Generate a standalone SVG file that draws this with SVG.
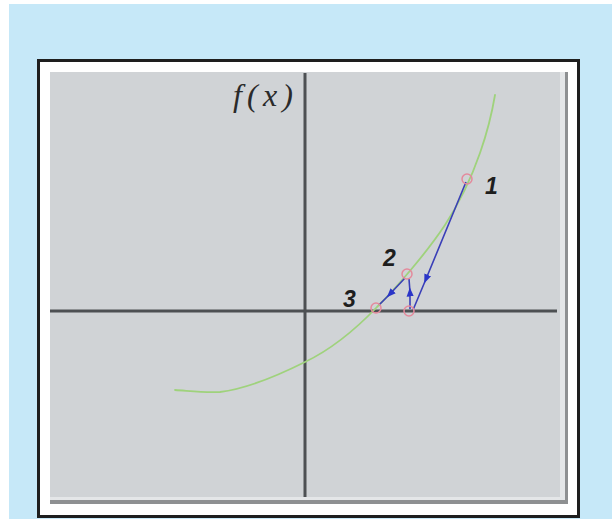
<svg xmlns="http://www.w3.org/2000/svg" width="612" height="519" viewBox="0 0 612 519">
  <style>
    .axis { stroke: #4d5053; stroke-width: 3; fill: none; }
    .curve { stroke: #9fd27c; stroke-width: 1.8; fill: none; stroke-linejoin: round; stroke-linecap: round; }
    .pt { stroke: #e48a9c; stroke-width: 1.5; fill: none; }
    .conn { stroke: #3a3fb8; stroke-width: 1.6; fill: none; marker-mid: url(#arrow); }
    .lbl { font-family: "Liberation Sans", Arial, sans-serif; font-weight: bold; font-style: italic; font-size: 23px; fill: #1e1e1e; }
    .fx { font-family: "Liberation Serif", "Times New Roman", serif; font-style: italic; font-size: 32px; fill: #2a2a2a; }
  </style>
  <defs>
    <marker id="arrow" viewBox="0 0 10 10" refX="5" refY="5" markerWidth="9" markerHeight="9" markerUnits="userSpaceOnUse" orient="auto">
      <path d="M0,1 L10,5 L0,9 Z" fill="#2a35c8"/>
    </marker>
  </defs>
  <rect x="0" y="0" width="612" height="519" fill="#ffffff"/>
  <rect x="9" y="4" width="603" height="515" fill="#c6e8f8"/>
  <g id="frame">
    <rect x="38.5" y="60.5" width="540" height="456" fill="#ffffff" stroke="#1e1e1e" stroke-width="3"/>
    <rect x="50" y="72" width="518" height="432" fill="#d0d3d6"/>
    <rect x="560" y="72" width="5" height="428" fill="#e4e6e8"/>
    <rect x="565" y="72" width="3" height="432" fill="#8e9092"/>
    <rect x="50" y="497" width="515" height="3" fill="#e4e6e8"/>
    <rect x="50" y="500" width="518" height="4" fill="#8e9092"/>
  </g>
  <g id="axes">
    <line class="axis" x1="50" y1="311" x2="557" y2="311"/>
    <line class="axis" x1="305" y1="73" x2="305" y2="497"/>
    <text class="fx" x="233" y="106" textLength="60" lengthAdjust="spacing">f(x)</text>
  </g>
  <g id="curve">
    <path class="curve" d="M175,390 C190,391 205,393 220,392 C245,389 275,377 305,362 C330,350 355,330 377,307 C395,289 425,255 445,225 C460,202 472,176 480,153 C487,133 492,113 495,95"/>
  </g>
  <g id="connectors">
    <path class="conn" d="M466,182 L426,279 L413,310"/>
    <path class="conn" d="M410,309 L410,292 L409,279"/>
    <path class="conn" d="M405,278 L390,294 L379,305"/>
  </g>
  <g id="node1">
    <circle class="pt" cx="467" cy="179" r="5"/>
    <text class="lbl" x="485" y="194">1</text>
  </g>
  <g id="node2">
    <circle class="pt" cx="407" cy="274" r="5"/>
    <text class="lbl" x="383" y="266">2</text>
  </g>
  <g id="node3">
    <circle class="pt" cx="376" cy="308" r="5"/>
    <text class="lbl" x="343" y="307">3</text>
  </g>
  <g id="node4">
    <circle class="pt" cx="409" cy="311" r="5"/>
  </g>
</svg>
